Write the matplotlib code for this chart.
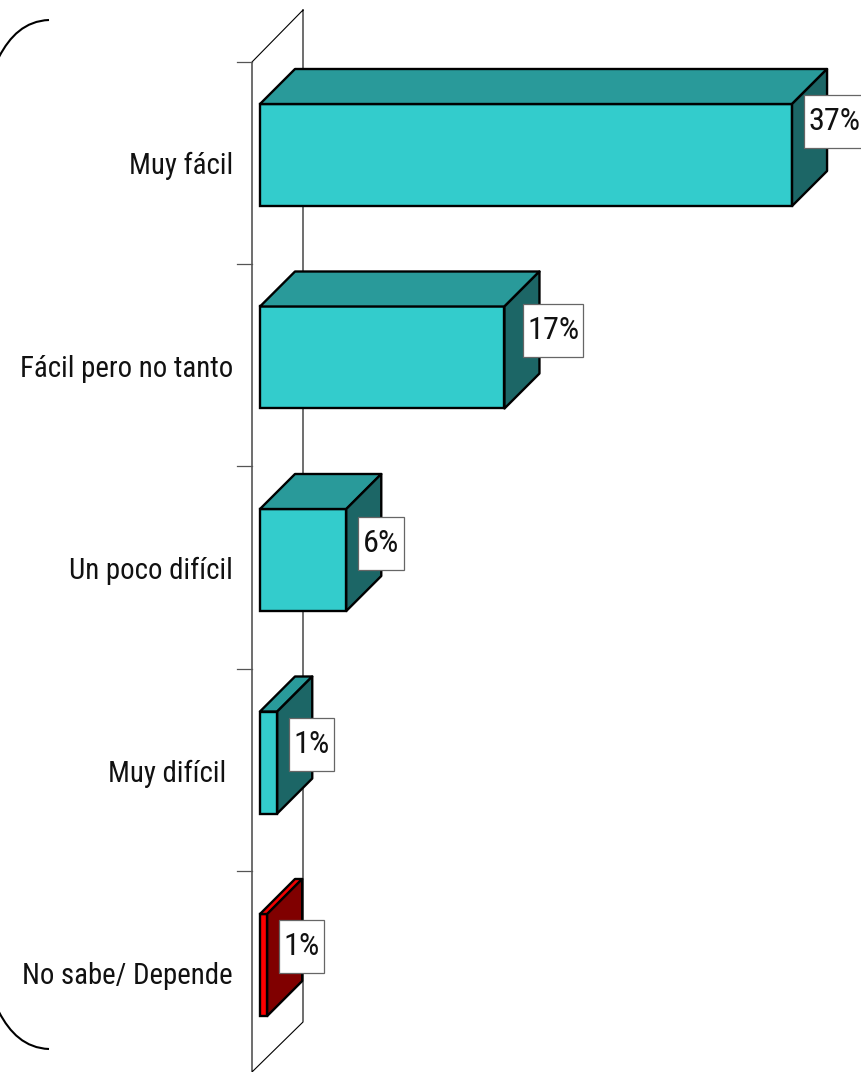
import matplotlib
matplotlib.use('Agg')
import matplotlib.pyplot as plt
from matplotlib.patches import PathPatch, Polygon, Rectangle
from matplotlib.path import Path

categories = ['Muy fácil', 'Fácil pero no tanto', 'Un poco difícil', 'Muy difícil ', 'No sabe/ Depende']
values = [37, 17, 6, 1.2, 0.5]
value_labels = ['37%', '17%', '6%', '1%', '1%']

# label boxes relative to the bar end, in pixels
label_dx = [12, 19, 12, 12, 12]
label_dy = [-33, -27, -16, -18, -18]
label_w = [60, 60, 46, 45, 45]
LABEL_H = 53

W, H = 861, 1072
PX_PCT = 14.38
PX_CAT = 202.5
X0, Y0 = 260, 155
DEPTH = 35
BAR_PX = 102
FS_CAT = 20.8
FS_VAL = 23.2

plt.rcParams['font.family'] = ['Roboto Condensed', 'Archivo Narrow', 'Liberation Sans']

fig = plt.figure(figsize=(W / 100, H / 100), dpi=100)

# pixel axes for the wall and the bracket
bg = fig.add_axes([0, 0, 1, 1])
bg.set_xlim(0, W)
bg.set_ylim(H, 0)
bg.axis('off')

bg.plot([303, 252, 252, 303, 303], [10, 62, 1072, 1022, 10], color='black', lw=0.8)
for i in range(5):
    y = 62 + i * 202.2
    bg.plot([237, 252], [y, y], color='#555555', lw=0.9)

curve = [Path.MOVETO, Path.CURVE4, Path.CURVE4, Path.CURVE4]
top = Path([(49, 20), (25, 21), (10, 36), (-1, 57)], curve)
bottom = Path([(49, 1049), (25, 1048), (10, 1033), (-1, 1012)], curve)
bg.add_patch(PathPatch(top, fc='none', ec='black', lw=1.5))
bg.add_patch(PathPatch(bottom, fc='none', ec='black', lw=1.5))

# bars on value / category scales
ax = fig.add_axes([0, 0, 1, 1])
ax.patch.set_alpha(0)
ax.set_xlim(-X0 / PX_PCT, (W - X0) / PX_PCT)
ax.set_ylim((H - Y0) / PX_CAT, -Y0 / PX_CAT)
ax.axis('off')

dx = DEPTH / PX_PCT
dy = DEPTH / PX_CAT
half = BAR_PX / PX_CAT / 2
colors = [('#33CCCC', '#299A9A', '#1C6666')] * 4 + [('#FF0000', '#F00000', '#800000')]

for i, (cat, val, lab) in enumerate(zip(categories, values, value_labels)):
    front, upper, side = colors[i]
    ax.barh(i, val, height=2 * half, color=front, edgecolor='black', linewidth=1.7, zorder=3)
    ax.add_patch(Polygon([(0, i - half), (dx, i - half - dy), (val + dx, i - half - dy), (val, i - half)],
                         fc=upper, ec='black', lw=1.7, joinstyle='round', zorder=3))
    ax.add_patch(Polygon([(val, i - half), (val + dx, i - half - dy), (val + dx, i + half - dy), (val, i + half)],
                         fc=side, ec='black', lw=1.7, joinstyle='round', zorder=3))

    left = val + label_dx[i] / PX_PCT
    mid = i + label_dy[i] / PX_CAT
    ax.add_patch(Rectangle((left, mid - LABEL_H / PX_CAT / 2), label_w[i] / PX_PCT, LABEL_H / PX_CAT,
                           fc='white', ec='#666666', lw=0.9, zorder=4))
    ax.text(left + label_w[i] / PX_PCT / 2, mid, lab, fontsize=FS_VAL, color='#111111',
            ha='center', va='center', zorder=5)
    ax.text(-27 / PX_PCT, i + 19.5 / PX_CAT, cat, fontsize=FS_CAT, color='#111111', ha='right', va='baseline')

fig.savefig('out.png', dpi=100)
